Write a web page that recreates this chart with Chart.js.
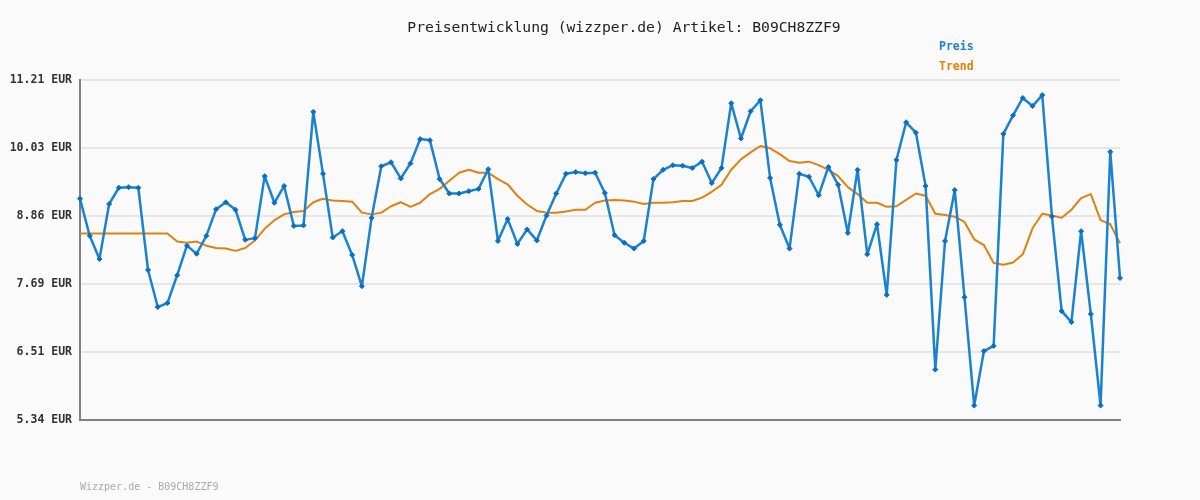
<!DOCTYPE html>
<html>
<head>
<meta charset="utf-8">
<script src="https://cdn.jsdelivr.net/npm/chart.js"></script>
<style>
  html, body { margin: 0; padding: 0; background: #fafafa; }
  #wrap { width: 1200px; height: 500px; position: relative; }
</style>
</head>
<body>
<div id="wrap"><canvas id="chart" width="1200" height="500"></canvas></div>
<script>
// Preis pro Tag, 108 Werte
const preis = [
  9.16, 8.52, 8.12, 9.07, 9.35, 9.36, 9.35, 7.93, 7.29, 7.36,
  7.84, 8.35, 8.21, 8.52, 8.98, 9.10, 8.97, 8.45, 8.48, 9.55,
  9.09, 9.38, 8.69, 8.70, 10.66, 9.59, 8.49, 8.60, 8.19, 7.65,
  8.83, 9.72, 9.79, 9.51, 9.77, 10.19, 10.17, 9.50, 9.25, 9.25,
  9.29, 9.33, 9.67, 8.43, 8.81, 8.38, 8.63, 8.44, 8.87, 9.25,
  9.59, 9.62, 9.60, 9.61, 9.26, 8.53, 8.40, 8.30, 8.43, 9.50,
  9.66, 9.74, 9.73, 9.69, 9.80, 9.43, 9.69, 10.81, 10.20, 10.67,
  10.86, 9.52, 8.71, 8.30, 9.59, 9.54, 9.22, 9.71, 9.40, 8.57,
  9.66, 8.20, 8.72, 7.50, 9.83, 10.48, 10.30, 9.38, 6.21, 8.43,
  9.31, 7.46, 5.59, 6.53, 6.62, 10.28, 10.60, 10.90, 10.76, 10.95,
  8.85, 7.22, 7.03, 8.60, 7.17, 5.59, 9.97, 7.79
];

// Trendlinie
const trend = [
  8.56, 8.56, 8.56, 8.56, 8.56, 8.56, 8.56, 8.56, 8.56, 8.56,
  8.42, 8.40, 8.42, 8.35, 8.31, 8.30, 8.26, 8.31, 8.44, 8.64,
  8.79, 8.89, 8.93, 8.95, 9.10, 9.16, 9.13, 9.12, 9.11, 8.92,
  8.89, 8.92, 9.03, 9.10, 9.02, 9.09, 9.24, 9.33, 9.47, 9.61,
  9.66, 9.61, 9.61, 9.50, 9.41, 9.21, 9.06, 8.95, 8.92, 8.92,
  8.94, 8.97, 8.97, 9.09, 9.13, 9.14, 9.13, 9.11, 9.07, 9.09,
  9.09, 9.10, 9.12, 9.12, 9.18, 9.28, 9.40, 9.66, 9.84, 9.96,
  10.07, 10.03, 9.93, 9.81, 9.78, 9.80, 9.74, 9.66, 9.55, 9.36,
  9.24, 9.09, 9.09, 9.02, 9.03, 9.14, 9.25, 9.21, 8.90, 8.88,
  8.85, 8.76, 8.46, 8.36, 8.05, 8.02, 8.06, 8.20, 8.65, 8.90,
  8.87, 8.83, 8.97, 9.17, 9.24, 8.79, 8.72, 8.39
];

// y-Achse: gleichmäßige Teilung zwischen min und max, Beschriftung wie im Bild
const yTicks = [5.34, 6.514, 7.688, 8.862, 10.036, 11.21];
const yTickLabels = ['5.34 EUR', '6.51 EUR', '7.69 EUR', '8.86 EUR', '10.03 EUR', '11.21 EUR'];
const days = preis.map((_, i) => String(i + 1));

const titleText = 'Preisentwicklung (wizzper.de) Artikel: B09CH8ZZF9';
const footerText = 'Wizzper.de - B09CH8ZZF9';
const seriesNames = ['Preis', 'Trend'];
const blue = '#1b82d0';
const orange = '#e0800f';

const MONO = '"DejaVu Sans Mono", "Liberation Mono", monospace';

// Titel, Legende und Fußzeile von Hand
const decor = {
  id: 'decor',
  afterDraw(chart) {
    const ctx = chart.ctx;
    ctx.save();
    ctx.textBaseline = 'middle';
    ctx.fillStyle = '#222';
    ctx.font = '14.7px ' + MONO;
    ctx.textAlign = 'center';
    ctx.fillText(titleText, 624, 28);

    ctx.textAlign = 'left';
    ctx.font = 'bold 11.5px ' + MONO;
    ctx.fillStyle = blue;
    ctx.fillText(seriesNames[0], 939, 47);
    ctx.fillStyle = orange;
    ctx.fillText(seriesNames[1], 939, 67);

    ctx.font = '10px ' + MONO;
    ctx.fillStyle = '#aaa';
    ctx.fillText(footerText, 80, 487);
    ctx.restore();
  }
};

new Chart(document.getElementById('chart'), {
  type: 'line',
  data: {
    labels: days,
    datasets: [
      {
        label: seriesNames[1],
        data: trend,
        borderColor: orange,
        borderWidth: 2,
        borderJoinStyle: 'round',
        pointRadius: 0,
        tension: 0,
        order: 2
      },
      {
        label: seriesNames[0],
        data: preis,
        borderColor: blue,
        borderWidth: 2.5,
        borderJoinStyle: 'round',
        pointStyle: 'rectRot',
        pointRadius: 2.5,
        pointBackgroundColor: '#0a6fc2',
        pointBorderColor: '#0a6fc2',
        pointBorderWidth: 1,
        tension: 0,
        order: 1
      }
    ]
  },
  options: {
    responsive: false,
    animation: false,
    layout: { padding: { top: 80, right: 80, left: 0, bottom: 0 } },
    plugins: {
      legend: { display: false },
      title: { display: false },
      tooltip: { enabled: false }
    },
    scales: {
      x: {
        offset: false,
        ticks: { display: false },
        grid: { display: false, drawTicks: false },
        border: { display: true, color: '#808080', width: 2 },
        afterFit(scale) { scale.height = 80; }
      },
      y: {
        min: 5.34,
        max: 11.21,
        afterBuildTicks(scale) {
          scale.ticks = yTicks.map(v => ({ value: v }));
        },
        ticks: {
          padding: 8,
          color: '#333',
          font: { family: MONO, size: 11.5, weight: 'bold' },
          callback: (v, i) => yTickLabels[i]
        },
        grid: { color: '#e6e6e6', lineWidth: 2, drawTicks: false },
        border: { display: true, color: '#808080', width: 2 },
        afterFit(scale) { scale.width = 80; }
      }
    }
  },
  plugins: [decor]
});
</script>
</body>
</html>
